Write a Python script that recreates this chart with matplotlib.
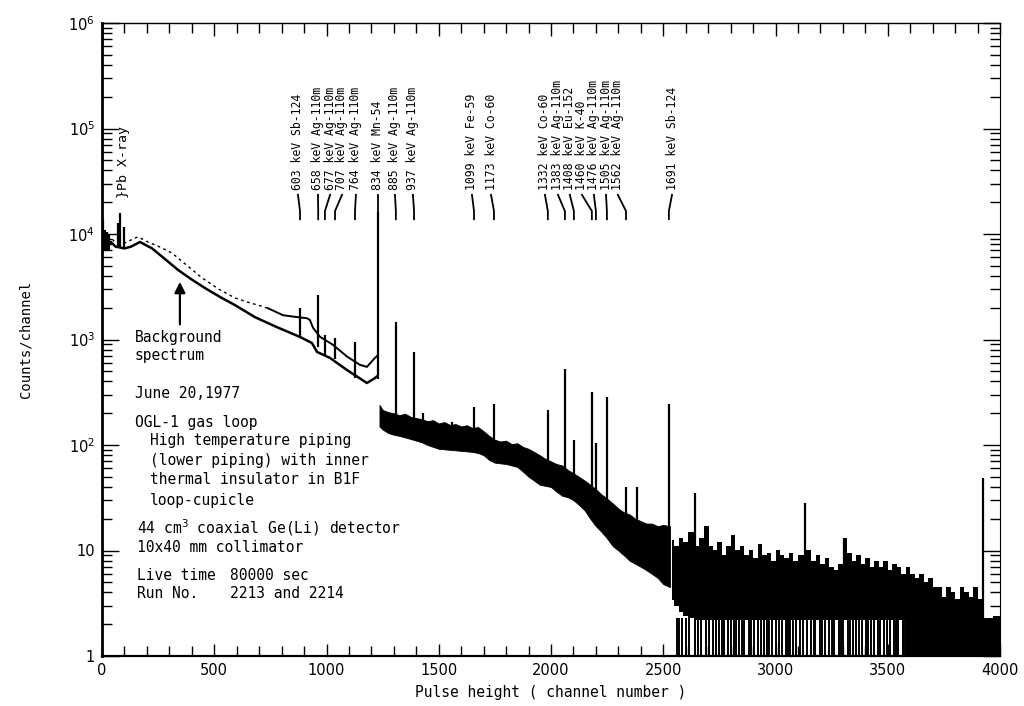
import numpy as np
import matplotlib

matplotlib.use("Agg")
import matplotlib.pyplot as plt
from matplotlib.ticker import FixedLocator, MultipleLocator, LogLocator, NullFormatter

MONO = "DejaVu Sans Mono"

# low-energy part: sample run (upper trace) and background run (lower trace)
sample_ch = [0, 20, 40, 60, 100, 125, 160, 205, 260, 312, 380, 445, 520, 592,
             646, 700, 739, 806, 850, 913, 926, 940, 971, 1029, 1091, 1149,
             1180, 1216, 1226]
sample_counts = [9000, 8600, 9200, 8300, 8200, 8700, 9400, 8400, 7500, 6600,
                 5000, 3850, 3000, 2480, 2270, 2100, 1980, 1700, 1650, 1590,
                 1530, 1290, 1060, 890, 690, 575, 550, 670, 700]
bkg_ch = [0, 20, 40, 60, 100, 130, 169, 223, 280, 339, 400, 459, 530, 592,
          681, 779, 882, 935, 958, 1016, 1091, 1140, 1180, 1216, 1226]
bkg_counts = [8200, 7800, 8400, 7600, 7300, 7600, 8400, 7300, 5800, 4560,
              3700, 3070, 2500, 2120, 1630, 1310, 1057, 927, 762, 668, 514,
              440, 387, 431, 450]

# single spectrum above the 834 keV line: spread of the channel contents
band_ch = [1236, 1250, 1275, 1300, 1325, 1350, 1375, 1400, 1425, 1450, 1475,
           1500, 1525, 1550, 1575, 1600, 1625, 1650, 1675, 1700, 1725, 1750,
           1775, 1800, 1825, 1850, 1875, 1900, 1925, 1950, 1975, 2000, 2025,
           2050, 2075, 2100, 2125, 2150, 2175, 2200, 2225, 2250, 2275, 2300,
           2325, 2350, 2375, 2400, 2425, 2450, 2475, 2500, 2530]
band_top = [240, 215, 205, 200, 192, 198, 185, 180, 176, 168, 172, 160, 165,
            155, 158, 150, 154, 145, 148, 135, 122, 112, 108, 110, 102, 104,
            96, 92, 86, 80, 74, 70, 66, 64, 58, 54, 50, 46, 42, 38, 34, 31,
            28, 25, 23, 22, 20, 19, 18, 18, 17, 17.5, 17]
band_low = [150, 140, 130, 125, 122, 118, 114, 110, 106, 100, 96, 92, 91, 90,
            89, 88, 87, 86, 84, 80, 72, 68, 67, 66, 64, 62, 56, 50, 46, 42,
            41, 40, 36, 33, 32, 30, 27, 24, 20, 17, 15, 13, 11, 10, 9, 8, 7.5,
            7, 6.5, 6, 5.5, 4.8, 4.5]

noisy_ch = [2540, 2560, 2580, 2600, 2620, 2650, 2670, 2695, 2710, 2730, 2750,
            2770, 2790, 2810, 2830, 2850, 2870, 2890, 2910, 2930, 2950, 2970,
            2990, 3010, 3030, 3050, 3070, 3090, 3110, 3150, 3170, 3190, 3210,
            3230, 3250, 3270, 3290, 3310, 3330, 3350, 3370, 3390, 3410, 3430,
            3450, 3470, 3490, 3510, 3530, 3550, 3570, 3590, 3610, 3630, 3650,
            3670, 3690, 3710, 3730, 3750, 3770, 3790, 3810, 3830, 3850, 3870,
            3890, 3910, 3940, 3960, 3980, 4000]
noisy_top = [12.6, 11, 13, 12, 15, 11, 13, 17, 11, 10, 12, 9, 11, 14, 10, 11,
             9, 10, 8.5, 11.5, 9, 9.5, 8, 10, 9, 8.5, 9.5, 8, 9, 10, 8, 9, 7.5,
             8.5, 7, 6.5, 7.5, 13, 9.5, 8, 9, 7.5, 8.5, 7, 8, 7, 8, 6.5, 7.5, 7,
             6, 7, 6, 5.5, 6, 5, 5.5, 4.5, 4.5, 3.6, 4.5, 4, 3.5, 4.5, 4, 3.6,
             4.5, 3.5, 2.3, 2.3, 2.4, 2.4]
noisy_low = [3.4, 3.0, 2.6, 2.4, 2.3, 2.2, 2.2, 2.2, 2.2, 2.2, 2.2, 2.2, 2.2,
             2.2, 2.2, 2.2, 2.2, 2.2, 2.2, 2.2, 2.2, 2.2, 2.2, 2.2, 2.2, 2.2,
             2.2, 2.2, 2.2, 2.2, 2.2, 2.2, 2.2, 2.2, 2.2, 2.2, 2.2, 2.2, 2.2,
             2.2, 2.2, 2.2, 2.2, 2.2, 2.2, 2.2, 2.2, 2.2, 2.2, 2.2, 2.2, 1, 1,
             1, 1, 1, 1, 1, 1, 1, 1, 1, 1, 1, 1, 1, 1, 1, 1, 1, 1, 1]

# empty channels in the high-energy tail
zero_ch = [2560, 2572, 2585, 2602, 2615, 2641, 2655, 2668, 2690, 2702, 2720,
           2735, 2748, 2760, 2772, 2788, 2800, 2815, 2826, 2838, 2850, 2861,
           2880, 2892, 2905, 2922, 2935, 2947, 2960, 2972, 2985, 3004, 3016,
           3028, 3047, 3056, 3066, 3080, 3092, 3110, 3124, 3140, 3160, 3170,
           3178, 3196, 3208, 3220, 3238, 3250, 3262, 3281, 3290, 3300, 3323,
           3334, 3344, 3360, 3372, 3384, 3402, 3414, 3425, 3440, 3455, 3466,
           3484, 3496, 3508, 3527, 3538, 3546, 3566, 3574, 3580]

# full-energy peaks: channel, continuum under the peak, peak top
peak_ch = [4, 12, 22, 30, 73, 80, 99, 882, 963, 993, 1038, 1127, 1229, 1309,
           1390, 1430, 1559, 1657, 1746, 1986, 2062, 2102, 2182, 2200, 2249,
           2334, 2383, 2525, 2641, 3131, 3305, 3924]
peak_base = [7000, 7000, 7000, 7000, 7300, 7300, 7300, 1060, 850, 700, 650,
             430, 420, 150, 125, 115, 95, 88, 75, 42, 36, 30, 20, 17, 14, 9,
             8, 5, 2.3, 2.2, 2.2, 1.0]
peak_top = [14000, 11000, 10500, 9800, 12700, 15700, 11600, 2010, 2640,
            1100, 1040, 946, 16000, 1460, 762, 201, 165, 229, 245, 215, 525,
            111, 318, 104, 285, 40, 40, 245, 35, 28, 13, 49]

line_names = ["603 keV Sb-124", "658 keV Ag-110m", "677 keV Ag-110m",
              "707 keV Ag-110m", "764 keV Ag-110m", "834 keV Mn-54",
              "885 keV Ag-110m", "937 keV Ag-110m", "1099 keV Fe-59",
              "1173 keV Co-60", "1332 keV Co-60", "1383 keV Ag-110m",
              "1408 keV Eu-152", "1460 keV K-40", "1476 keV Ag-110m",
              "1505 keV Ag-110m", "1562 keV Ag-110m", "1691 keV Sb-124"]
# peak channel each label points to
line_ch = [882, 963, 993, 1038, 1127, 1229, 1309, 1390, 1657, 1746, 1986,
           2062, 2102, 2182, 2200, 2249, 2334, 2525]

# where the label columns sit (channel axis units)
label_x = [873, 962, 1016, 1069, 1131, 1229, 1305, 1385, 1648, 1733, 1973,
           2031, 2084, 2138, 2191, 2245, 2298, 2539]

fig = plt.figure(figsize=(10.24, 7.06), dpi=100, facecolor="white")
ax = fig.add_axes([102 / 1024, 1 - 656 / 706, 898 / 1024, 633 / 706])
ax.set_xlim(0, 4000)
ax.set_yscale("log")
ax.set_ylim(1, 1e6)

# continuum traces
s_ch = np.array(sample_ch)
s_ct = np.array(sample_counts)
early = s_ch <= 740
late = s_ch >= 739
ax.plot(s_ch[early], s_ct[early], color="k", lw=1.0, ls=(0, (2, 2.5)))
ax.plot(s_ch[late], s_ct[late], color="k", lw=1.4)
ax.plot(bkg_ch, bkg_counts, color="k", lw=1.8)

ax.fill_between(band_ch, band_low, band_top, color="k", lw=0.6, edgecolor="k")
ax.fill_between(noisy_ch, noisy_low, noisy_top, step="mid", color="k", lw=0)
ax.vlines(zero_ch, 1, 2.3, color="k", lw=1.4)
ax.vlines(peak_ch, peak_base, peak_top, color="k", lw=1.6)

# line identification labels with leader lines
for name, xl, xp in zip(line_names, label_x, line_ch):
    ax.text(xl, 26000, name, rotation=90, ha="center", va="bottom",
            family=MONO, fontsize=8.3)
    ax.plot([xl, xp, xp], [23500, 16500, 13800], color="k", lw=1.3)

ax.text(94, 22000, "}Pb X-ray", rotation=90, ha="center", va="bottom",
        family=MONO, fontsize=9.5)

ax.annotate("", xy=(347, 3740), xytext=(347, 1310),
            arrowprops=dict(arrowstyle="-|>", color="k", lw=1.6,
                            mutation_scale=16))


def fpos(x, y):
    return x / 1024, 1 - y / 706


notes = [
    (135, 337, "Background"),
    (135, 355, "spectrum"),
    (135, 393, "June 20,1977"),
    (135, 422, "OGL-1 gas loop"),
    (150, 441, "High temperature piping"),
    (150, 460, "(lower piping) with inner"),
    (150, 480, "thermal insulator in B1F"),
    (150, 500, "loop-cupicle"),
    (137, 528, "44 cm$^3$ coaxial Ge(Li) detector"),
    (137, 547, "10x40 mm collimator"),
    (137, 575, "Live time"),
    (137, 593, "Run No."),
    (230, 575, "80000 sec"),
    (230, 593, "2213 and 2214"),
]
for x, y, s in notes:
    fig.text(*fpos(x, y), s, ha="left", va="center", family=MONO,
             fontsize=10.5)

# axes, ticks and labels
ax.xaxis.set_major_locator(FixedLocator([0, 500, 1000, 1500, 2000, 2500,
                                         3000, 3500, 4000]))
ax.xaxis.set_minor_locator(MultipleLocator(100))
ax.set_yticks([1, 10, 1e2, 1e3, 1e4, 1e5, 1e6])
ax.set_yticklabels(["1", "10", "$10^2$", "$10^3$", "$10^4$", "$10^5$",
                    "$10^6$"])
ax.yaxis.set_minor_locator(LogLocator(base=10, subs=np.arange(2, 10),
                                      numticks=20))
ax.yaxis.set_minor_formatter(NullFormatter())
ax.tick_params(which="both", direction="in", top=True, right=True,
               labelsize=10.5, width=1.0)
ax.tick_params(which="major", length=12, pad=5)
ax.tick_params(which="minor", length=7)
ax.tick_params(axis="x", which="major", length=9)

ax.spines["left"].set_linewidth(2.0)
ax.spines["bottom"].set_linewidth(1.6)
ax.spines["top"].set_linewidth(1.0)
ax.spines["right"].set_linewidth(0.8)

ax.set_xlabel("Pulse height ( channel number )", family=MONO, fontsize=10.5,
              labelpad=5)
ax.set_ylabel("Counts/channel", family=MONO, fontsize=10, labelpad=26)

fig.savefig("out.png", dpi=100, facecolor="white")
